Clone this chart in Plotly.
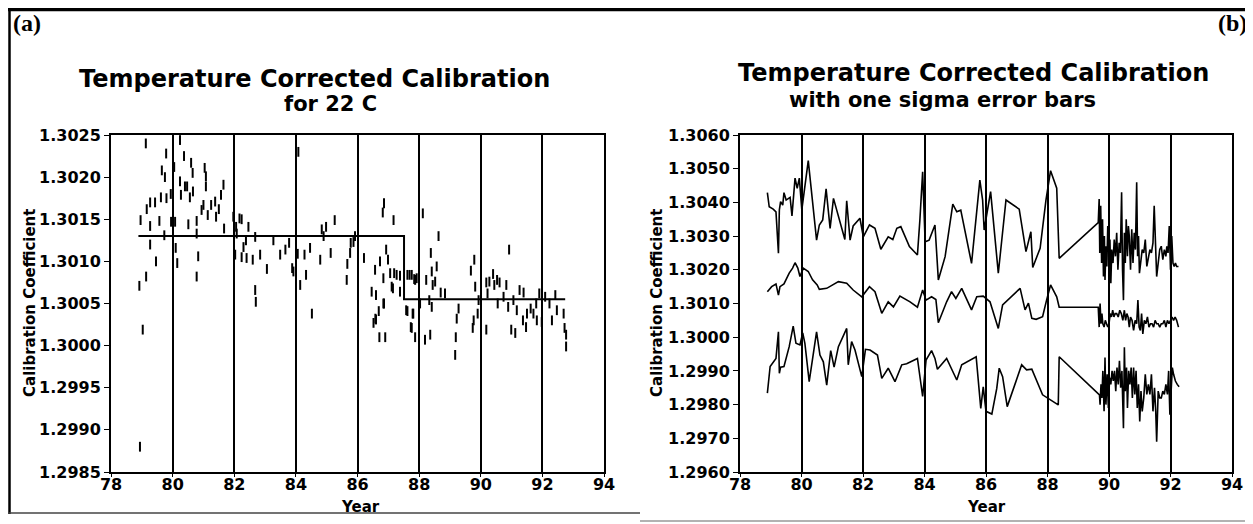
import plotly.graph_objects as go

# ---- panel (a): temperature corrected calibration points, for 22 C ----
cal_year = [79.13, 79.79, 80.24, 80.37, 80.60, 79.65, 79.75, 80.05, 80.24, 80.40,
            80.47, 80.65, 81.04, 81.08, 81.08, 81.65, 81.57, 79.94, 80.27, 80.56,
            80.66, 79.62, 79.80, 79.43, 79.16, 79.27, 79.27, 79.27, 78.96, 79.57,
            79.95, 80.08, 80.51, 80.78, 80.94, 81.00, 81.14, 81.25, 81.38, 81.41,
            81.50, 81.67, 80.78, 79.73, 79.46, 80.10, 80.15, 80.83, 79.14, 78.92,
            80.78, 79.03, 78.94,
            81.97, 82.06, 82.17, 82.24, 82.08, 82.30, 82.38, 82.46, 82.68, 82.03,
            82.24, 82.40, 82.60, 82.68, 82.70, 82.84, 83.06, 83.27, 83.49, 83.66,
            83.78, 83.88, 83.92, 84.08, 84.06, 84.14, 84.28, 84.33, 84.46, 84.52,
            84.79, 84.84, 84.90, 84.98, 85.13, 85.26, 85.65, 85.67, 85.76, 85.78,
            85.87, 85.92, 86.21, 86.57, 86.73, 86.86, 86.82, 86.93, 86.99, 86.84,
            87.17, 87.06, 87.11, 87.19, 87.27, 87.38, 87.15, 87.38, 86.46, 86.60,
            86.86, 86.69, 86.58, 87.62, 87.76, 87.84, 87.92, 88.12, 87.62, 87.81,
            86.52, 86.60, 86.71, 86.90, 86.84, 87.58, 87.73, 87.87,
            88.63, 88.38, 88.41, 88.57, 88.52, 88.44, 88.23, 87.69, 87.87, 88.70,
            88.84, 88.33, 88.41, 87.79, 87.76, 88.19, 88.36, 88.03, 89.28, 89.22,
            89.19, 89.17, 89.79, 89.68, 89.82, 89.93, 89.90, 89.77, 89.74, 90.18,
            90.18, 90.28, 90.22, 90.40, 90.44, 90.53, 90.61, 90.55, 90.74, 90.83,
            90.92, 90.89, 91.06, 91.17, 90.99, 91.12, 91.26, 91.39, 91.37, 91.50,
            91.47, 91.62, 91.71, 91.80, 91.82, 91.90, 91.98, 92.09, 92.23, 92.31,
            92.42, 92.47, 92.69, 92.72, 92.77, 92.77]
cal_coef = [1.30240, 1.30228, 1.30244, 1.30225, 1.30217, 1.30208, 1.30200, 1.30212, 1.30195, 1.30189,
            1.30189, 1.30205, 1.30211, 1.30201, 1.30189, 1.30191, 1.30179, 1.30180, 1.30179, 1.30176,
            1.30183, 1.30176, 1.30175, 1.30170, 1.30162, 1.30170, 1.30142, 1.30120, 1.30149, 1.30148,
            1.30147, 1.30147, 1.30144, 1.30148, 1.30161, 1.30167, 1.30155, 1.30167, 1.30171, 1.30153,
            1.30162, 1.30139, 1.30133, 1.30131, 1.30100, 1.30116, 1.30098, 1.30106, 1.30082, 1.30071,
            1.30082, 1.30019, 1.29880,
            1.30153, 1.30141, 1.30151, 1.30150, 1.30133, 1.30117, 1.30125, 1.30141, 1.30129, 1.30108,
            1.30105, 1.30104, 1.30102, 1.30066, 1.30052, 1.30108, 1.30091, 1.30125, 1.30108, 1.30114,
            1.30122, 1.30092, 1.30088, 1.30230, 1.30109, 1.30072, 1.30108, 1.30084, 1.30116, 1.30038,
            1.30102, 1.30138, 1.30130, 1.30141, 1.30110, 1.30149, 1.30078, 1.30097, 1.30110, 1.30122,
            1.30123, 1.30130, 1.30104, 1.30090, 1.30100, 1.30169, 1.30158, 1.30114, 1.30102, 1.30080,
            1.30149, 1.30086, 1.30070, 1.30086, 1.30084, 1.30083, 1.30068, 1.30064, 1.30064, 1.30060,
            1.30050, 1.30041, 1.30032, 1.30084, 1.30084, 1.30079, 1.30080, 1.30157, 1.30041, 1.30038,
            1.30027, 1.30031, 1.30010, 1.30010, 1.30050, 1.30042, 1.30022, 1.30010,
            1.30130, 1.30110, 1.30088, 1.30094, 1.30076, 1.30072, 1.30078, 1.30084, 1.30078, 1.30063,
            1.30062, 1.30054, 1.30046, 1.30038, 1.30021, 1.30007, 1.30013, 1.30050, 1.30044, 1.30032,
            1.30010, 1.29989, 1.30102, 1.30089, 1.30070, 1.30054, 1.30038, 1.30030, 1.30021, 1.30019,
            1.30075, 1.30076, 1.30062, 1.30085, 1.30072, 1.30078, 1.30075, 1.30050, 1.30058, 1.30072,
            1.30114, 1.30046, 1.30054, 1.30042, 1.30019, 1.30015, 1.30066, 1.30063, 1.30030, 1.30038,
            1.30022, 1.30044, 1.30038, 1.30050, 1.30030, 1.30062, 1.30028, 1.30058, 1.30050, 1.30030,
            1.30060, 1.30042, 1.30038, 1.30021, 1.30013, 1.29999]

# mean level before / after the 1987 change
step_year = [78.89, 87.51, 87.51, 92.74]
step_coef = [1.30130, 1.30130, 1.30055, 1.30055]

# ---- panel (b): calibration with one sigma error bars ----
upper_year = [78.89, 78.95, 79.08, 79.17, 79.25, 79.28, 79.32, 79.39, 79.43, 79.50,
              79.63, 79.69, 79.79, 79.86, 79.93, 80.01, 80.22, 80.49, 80.58, 80.69,
              80.80, 80.93, 81.04, 81.23, 81.41, 81.47, 81.58, 81.68, 81.90, 82.01,
              82.21, 82.39, 82.58, 82.82, 82.97, 83.10, 83.23, 83.51, 83.77, 83.85,
              83.94, 84.02, 84.15, 84.34, 84.45, 84.67, 84.92, 85.05, 85.18, 85.53,
              85.80, 85.89, 85.94, 86.15, 86.40, 86.65, 87.08, 87.30, 87.46, 87.52,
              87.76, 87.95, 88.10, 88.30, 88.38,
              89.65, 89.68, 89.70, 89.73, 89.76, 89.79, 89.82, 89.85, 89.87, 89.90,
              89.93, 89.96, 90.00, 90.03, 90.06, 90.09, 90.13, 90.17, 90.21, 90.25,
              90.29, 90.33, 90.37, 90.41, 90.44, 90.47, 90.50, 90.53, 90.56, 90.60,
              90.63, 90.66, 90.70, 90.74, 90.78, 90.82, 90.86, 90.90, 90.93, 90.96,
              90.99, 91.03, 91.08, 91.13, 91.18, 91.23, 91.28, 91.33, 91.38, 91.43,
              91.47, 91.51, 91.55, 91.60, 91.65, 91.70, 91.75, 91.80, 91.85, 91.88,
              91.92, 91.96, 92.00, 92.04, 92.08, 92.12, 92.16, 92.20, 92.26]
upper_coef = [1.30429, 1.30387, 1.30380, 1.30372, 1.30249, 1.30378, 1.30402, 1.30392, 1.30429, 1.30407,
              1.30415, 1.30360, 1.30472, 1.30442, 1.30472, 1.30378, 1.30524, 1.30288, 1.30333, 1.30348,
              1.30440, 1.30323, 1.30412, 1.30348, 1.30290, 1.30405, 1.30288, 1.30330, 1.30353, 1.30298,
              1.30333, 1.30323, 1.30261, 1.30298, 1.30290, 1.30323, 1.30328, 1.30269, 1.30244, 1.30348,
              1.30491, 1.30283, 1.30288, 1.30333, 1.30170, 1.30239, 1.30395, 1.30372, 1.30377, 1.30219,
              1.30466, 1.30407, 1.30318, 1.30432, 1.30190, 1.30407, 1.30380, 1.30254, 1.30313, 1.30207,
              1.30264, 1.30407, 1.30494, 1.30442, 1.30234,
              1.30340, 1.30410, 1.30250, 1.30390, 1.30220, 1.30350, 1.30180, 1.30300, 1.30170, 1.30270,
              1.30210, 1.30330, 1.30240, 1.30290, 1.30160, 1.30260, 1.30220, 1.30290, 1.30240, 1.30310,
              1.30200, 1.30280, 1.30250, 1.30430, 1.30200, 1.30110, 1.30310, 1.30220, 1.30350, 1.30240,
              1.30330, 1.30300, 1.30200, 1.30320, 1.30220, 1.30310, 1.30260, 1.30460, 1.30240, 1.30300,
              1.30190, 1.30230, 1.30260, 1.30250, 1.30290, 1.30210, 1.30240, 1.30260, 1.30250, 1.30280,
              1.30390, 1.30250, 1.30180, 1.30220, 1.30260, 1.30270, 1.30230, 1.30260, 1.30240, 1.30270,
              1.30250, 1.30330, 1.30200, 1.30300, 1.30220, 1.30210, 1.30220, 1.30210, 1.30210]

mid_year = [78.89, 79.03, 79.17, 79.25, 79.30, 79.43, 79.60, 79.71, 79.79, 79.88,
            79.95, 80.06, 80.22, 80.36, 80.51, 80.58, 80.82, 81.20, 81.47, 81.68,
            81.96, 82.21, 82.39, 82.61, 82.82, 82.99, 83.20, 83.53, 83.77, 83.94,
            84.05, 84.23, 84.37, 84.45, 84.72, 84.88, 85.02, 85.21, 85.53, 85.70,
            85.91, 86.13, 86.40, 86.54, 87.11, 87.27, 87.38, 87.49, 87.63, 87.84,
            87.97, 88.10, 88.30, 88.38,
            89.65, 89.68, 89.71, 89.74, 89.77, 89.80, 89.84, 89.88, 89.92, 89.96,
            90.00, 90.04, 90.08, 90.12, 90.16, 90.20, 90.25, 90.30, 90.35, 90.40,
            90.45, 90.50, 90.54, 90.58, 90.62, 90.66, 90.70, 90.75, 90.80, 90.85,
            90.90, 90.94, 90.98, 91.02, 91.06, 91.10, 91.15, 91.20, 91.25, 91.30,
            91.35, 91.40, 91.45, 91.50, 91.55, 91.60, 91.65, 91.70, 91.75, 91.80,
            91.85, 91.90, 91.95, 92.00, 92.05, 92.10, 92.15, 92.20, 92.26]
mid_coef = [1.30135, 1.30150, 1.30158, 1.30125, 1.30150, 1.30158, 1.30190, 1.30205, 1.30221, 1.30205,
            1.30180, 1.30205, 1.30195, 1.30170, 1.30155, 1.30142, 1.30145, 1.30165, 1.30160, 1.30140,
            1.30120, 1.30150, 1.30135, 1.30071, 1.30105, 1.30090, 1.30122, 1.30105, 1.30089, 1.30140,
            1.30110, 1.30120, 1.30112, 1.30043, 1.30105, 1.30135, 1.30115, 1.30145, 1.30081, 1.30120,
            1.30122, 1.30105, 1.30026, 1.30096, 1.30145, 1.30081, 1.30101, 1.30056, 1.30053, 1.30061,
            1.30110, 1.30155, 1.30120, 1.30089,
            1.30089, 1.30030, 1.30100, 1.30040, 1.30070, 1.30040, 1.30030, 1.30050, 1.30040, 1.30030,
            1.30040, 1.30070, 1.30060, 1.30080, 1.30060, 1.30070, 1.30070, 1.30060, 1.30080, 1.30070,
            1.30050, 1.30080, 1.30050, 1.30070, 1.30060, 1.30030, 1.30060, 1.30050, 1.30020, 1.30050,
            1.30040, 1.30110, 1.30030, 1.30020, 1.30070, 1.30010, 1.30050, 1.30040, 1.30060, 1.30030,
            1.30040, 1.30040, 1.30030, 1.30050, 1.30040, 1.30040, 1.30030, 1.30040, 1.30040, 1.30050,
            1.30030, 1.30050, 1.30040, 1.30050, 1.30060, 1.30050, 1.30060, 1.30050, 1.30030]

lower_year = [78.89, 78.98, 79.17, 79.25, 79.28, 79.32, 79.43, 79.60, 79.73, 79.82,
              79.95, 80.04, 80.11, 80.25, 80.49, 80.60, 80.71, 80.82, 80.95, 81.06,
              81.20, 81.47, 81.52, 81.63, 81.74, 81.90, 81.96, 82.08, 82.23, 82.47,
              82.61, 82.82, 83.04, 83.26, 83.42, 83.77, 83.85, 83.94, 84.05, 84.23,
              84.34, 84.42, 84.72, 85.05, 85.21, 85.68, 85.83, 85.91, 86.00, 86.19,
              86.35, 86.43, 86.54, 86.69, 87.16, 87.32, 87.49, 87.84, 88.35, 88.38,
              89.69, 89.71, 89.74, 89.77, 89.80, 89.84, 89.87, 89.90, 89.94, 89.98,
              90.02, 90.06, 90.10, 90.14, 90.18, 90.22, 90.26, 90.30, 90.34, 90.38,
              90.42, 90.47, 90.50, 90.53, 90.57, 90.60, 90.64, 90.68, 90.72, 90.76,
              90.80, 90.84, 90.88, 90.92, 90.96, 91.00, 91.04, 91.08, 91.13, 91.18,
              91.23, 91.28, 91.33, 91.38, 91.43, 91.48, 91.52, 91.55, 91.60, 91.65,
              91.70, 91.75, 91.80, 91.85, 91.90, 91.94, 91.98, 92.02, 92.06, 92.10,
              92.16, 92.22, 92.28]
lower_coef = [1.29834, 1.29913, 1.29937, 1.30016, 1.29893, 1.29911, 1.29913, 1.29972, 1.30033, 1.29982,
              1.29977, 1.30013, 1.29982, 1.29868, 1.30016, 1.29947, 1.29927, 1.29858, 1.29960, 1.29911,
              1.29972, 1.30026, 1.29918, 1.29987, 1.29962, 1.29908, 1.29883, 1.29964, 1.29962, 1.29947,
              1.29878, 1.29908, 1.29868, 1.29918, 1.29921, 1.29937, 1.29875, 1.29824, 1.29932, 1.29960,
              1.29937, 1.29905, 1.29937, 1.29873, 1.29918, 1.29942, 1.29789, 1.29853, 1.29780, 1.29772,
              1.29848, 1.29908, 1.29883, 1.29794, 1.29918, 1.29903, 1.29905, 1.29829, 1.29799, 1.29942,
              1.29829, 1.29800, 1.29860, 1.29820, 1.29900, 1.29780, 1.29940, 1.29800, 1.29890, 1.29790,
              1.29880, 1.29860, 1.29900, 1.29870, 1.29900, 1.29840, 1.29910, 1.29860, 1.29930, 1.29850,
              1.29900, 1.29730, 1.29970, 1.29840, 1.29910, 1.29790, 1.29900, 1.29860, 1.29910, 1.29820,
              1.29910, 1.29830, 1.29900, 1.29790, 1.29860, 1.29750, 1.29840, 1.29780, 1.29820, 1.29890,
              1.29830, 1.29860, 1.29830, 1.29890, 1.29780, 1.29850, 1.29780, 1.29690, 1.29840, 1.29820,
              1.29820, 1.29840, 1.29830, 1.29860, 1.29830, 1.29900, 1.29770, 1.29830, 1.29910, 1.29890,
              1.29870, 1.29860, 1.29853]

year_ticks = [78, 80, 82, 84, 86, 88, 90, 92, 94]

W, H = 1253, 524
OFF = 8  # page body margin pushes the figure 8px right and down
def fx(px):
    return (px - OFF) / W
def fy(py):
    return 1 - (py - OFF) / H

FONT = "DejaVu Sans"
ink = "black"

fig = go.Figure()
fig.add_trace(go.Scatter(x=cal_year, y=cal_coef, mode="markers", xaxis="x", yaxis="y",
                         marker=dict(symbol="line-ns", size=7, line=dict(width=2, color=ink))))
fig.add_trace(go.Scatter(x=step_year, y=step_coef, mode="lines", xaxis="x", yaxis="y",
                         line=dict(color=ink, width=2)))
for yy, vv in [(upper_year, upper_coef), (mid_year, mid_coef), (lower_year, lower_coef)]:
    fig.add_trace(go.Scatter(x=yy, y=vv, mode="lines", xaxis="x2", yaxis="y2",
                             line=dict(color=ink, width=1.6)))

xcommon = dict(range=[78, 94], tickvals=year_ticks, showgrid=True, gridcolor=ink, gridwidth=1.5,
               showline=True, linecolor=ink, linewidth=2, mirror=True, ticks="outside",
               ticklen=3, tickcolor=ink, zeroline=False, ticklabelstandoff=-6,
               tickfont=dict(family=FONT, size=16, color=ink, weight="bold"))
ycommon = dict(showgrid=False, showline=True, linecolor=ink, linewidth=2, mirror=True,
               ticks="outside", ticklen=5, tickcolor=ink, zeroline=False, tickformat=".4f",
               tickfont=dict(family=FONT, size=16, color=ink, weight="bold"))

fig.update_layout(
    width=W, height=H, showlegend=False,
    margin=dict(l=0, r=0, t=0, b=0, autoexpand=False),
    paper_bgcolor="white", plot_bgcolor="white",
    xaxis=dict(domain=[fx(111), fx(604)], anchor="y", **xcommon),
    yaxis=dict(domain=[fy(472), fy(135)], anchor="x", range=[1.2985, 1.3025], dtick=0.0005, **ycommon),
    xaxis2=dict(domain=[fx(740), fx(1232)], anchor="y2", **xcommon),
    yaxis2=dict(domain=[fy(472), fy(135)], anchor="x2", range=[1.2960, 1.3060], dtick=0.001, **ycommon),
)

def label(text, px, py, size, family=FONT, angle=0):
    fig.add_annotation(text=text, x=fx(px), y=fy(py), xref="paper", yref="paper",
                       showarrow=False, xanchor="center", yanchor="middle", textangle=angle,
                       font=dict(family=family, size=size, color=ink, weight="bold"))

label("Temperature Corrected Calibration", 314, 79, 24)
label("for 22 C", 330, 104, 21)
label("Temperature Corrected Calibration", 973, 73, 24)
label("with one sigma error bars", 942, 100, 21)
label("Calibration Coefficient", 30, 303, 15, angle=-90)
label("Calibration Coefficient", 657, 303, 15, angle=-90)
label("Year", 360, 507, 15)
label("Year", 986, 507, 15)
label("(a)", 27, 23, 24, family="Liberation Serif")
label("(b)", 1232, 23, 24, family="Liberation Serif")

# scanned page frame (the page can only draw from 8px in)
frame = [((8, 9.5), (1253, 9.5), ink, 3.5), ((9.5, 8), (9.5, 514), ink, 2.5),
         ((9, 513), (640, 513), "#444", 1.5), ((640, 521), (1253, 521), "#999", 1.5),
         ((1250, 12), (1250, 300), "#bbb", 1.2)]
for (x0, y0), (x1, y1), col, wd in frame:
    fig.add_shape(type="line", xref="paper", yref="paper", x0=fx(x0), y0=fy(y0),
                  x1=fx(x1), y1=fy(y1), line=dict(color=col, width=wd))

fig.write_html("out.html")
